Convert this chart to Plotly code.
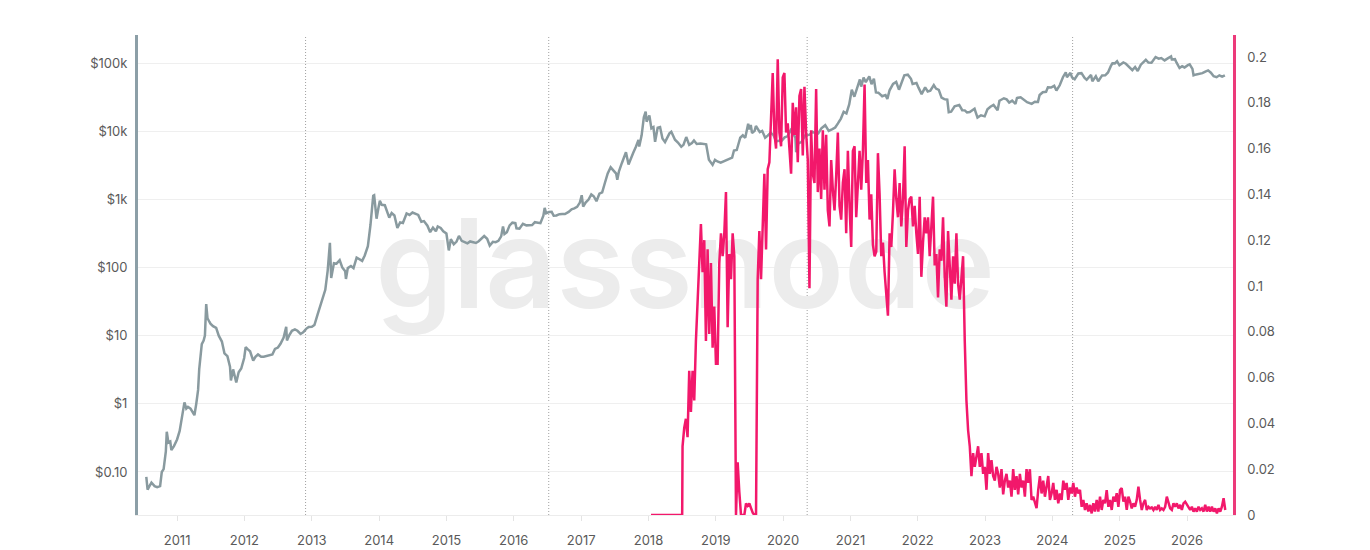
import plotly.graph_objects as go
import pandas as pd

# ---------------- data ----------------
price_dates = [
    "2010-07-18", "2010-07-25", "2010-08-01", "2010-08-15", "2010-09-01", "2010-09-15", "2010-10-01", "2010-10-10",
    "2010-10-20", "2010-11-01", "2010-11-06", "2010-11-15", "2010-11-25", "2010-12-01", "2010-12-15", "2011-01-01",
    "2011-01-15", "2011-02-01", "2011-02-10", "2011-02-20", "2011-03-01", "2011-03-15", "2011-04-05", "2011-04-15",
    "2011-04-25", "2011-05-01", "2011-05-15", "2011-05-25", "2011-06-01", "2011-06-08", "2011-06-15", "2011-06-25",
    "2011-07-01", "2011-07-15", "2011-08-01", "2011-08-15", "2011-09-01", "2011-09-15", "2011-10-01", "2011-10-15",
    "2011-10-20", "2011-11-01", "2011-11-18", "2011-12-01", "2011-12-15", "2011-12-31", "2012-01-08", "2012-01-20",
    "2012-02-01", "2012-02-18", "2012-03-01", "2012-03-15", "2012-04-01", "2012-04-15", "2012-05-01", "2012-05-15",
    "2012-06-01", "2012-06-15", "2012-07-01", "2012-07-15", "2012-08-01", "2012-08-15", "2012-08-19", "2012-09-01",
    "2012-09-15", "2012-10-01", "2012-10-15", "2012-11-01", "2012-11-15", "2012-12-01", "2012-12-15", "2013-01-01",
    "2013-01-15", "2013-02-01", "2013-02-15", "2013-03-01", "2013-03-15", "2013-03-28", "2013-04-09", "2013-04-16",
    "2013-05-01", "2013-05-15", "2013-06-01", "2013-06-15", "2013-07-01", "2013-07-05", "2013-07-15", "2013-08-01",
    "2013-08-15", "2013-09-01", "2013-09-15", "2013-10-01", "2013-10-15", "2013-11-01", "2013-11-15", "2013-11-30",
    "2013-12-05", "2013-12-18", "2013-12-28", "2014-01-05", "2014-01-15", "2014-02-01", "2014-02-25", "2014-03-10",
    "2014-03-25", "2014-04-10", "2014-04-25", "2014-05-10", "2014-05-30", "2014-06-15", "2014-07-01", "2014-07-15",
    "2014-08-01", "2014-08-18", "2014-09-01", "2014-09-20", "2014-10-05", "2014-10-20", "2014-11-05", "2014-11-15",
    "2014-12-01", "2014-12-15", "2015-01-01", "2015-01-14", "2015-01-25", "2015-02-10", "2015-02-25", "2015-03-10",
    "2015-03-25", "2015-04-10", "2015-04-25", "2015-05-10", "2015-05-25", "2015-06-10", "2015-06-25", "2015-07-10",
    "2015-07-25", "2015-08-10", "2015-08-24", "2015-09-10", "2015-09-25", "2015-10-10", "2015-10-25", "2015-11-04",
    "2015-11-12", "2015-11-25", "2015-12-10", "2015-12-25", "2016-01-10", "2016-01-16", "2016-02-01", "2016-02-20",
    "2016-03-10", "2016-03-25", "2016-04-10", "2016-04-25", "2016-05-10", "2016-05-25", "2016-06-10", "2016-06-17",
    "2016-06-25", "2016-07-10", "2016-07-25", "2016-08-05", "2016-08-20", "2016-09-05", "2016-09-20", "2016-10-05",
    "2016-10-25", "2016-11-10", "2016-11-25", "2016-12-10", "2016-12-25", "2017-01-04", "2017-01-12", "2017-01-25",
    "2017-02-10", "2017-02-25", "2017-03-10", "2017-03-25", "2017-04-10", "2017-04-25", "2017-05-10", "2017-05-25",
    "2017-06-10", "2017-06-25", "2017-07-10", "2017-07-16", "2017-07-25", "2017-08-10", "2017-08-25", "2017-09-01",
    "2017-09-15", "2017-09-25", "2017-10-10", "2017-10-25", "2017-11-08", "2017-11-12", "2017-11-25", "2017-12-07",
    "2017-12-17", "2017-12-22", "2018-01-06", "2018-01-17", "2018-01-28", "2018-02-06", "2018-02-20", "2018-03-05",
    "2018-03-18", "2018-04-01", "2018-04-25", "2018-05-05", "2018-05-25", "2018-06-10", "2018-06-28", "2018-07-10",
    "2018-07-25", "2018-08-10", "2018-08-25", "2018-09-05", "2018-09-20", "2018-10-10", "2018-10-25", "2018-11-10",
    "2018-11-25", "2018-12-15", "2018-12-28", "2019-01-10", "2019-01-28", "2019-02-15", "2019-02-28", "2019-03-15",
    "2019-03-31", "2019-04-10", "2019-04-25", "2019-05-14", "2019-05-28", "2019-06-10", "2019-06-26", "2019-07-02",
    "2019-07-10", "2019-07-17", "2019-07-31", "2019-08-07", "2019-08-28", "2019-09-10", "2019-09-26", "2019-10-10",
    "2019-10-26", "2019-11-10", "2019-11-25", "2019-12-10", "2019-12-25", "2020-01-10", "2020-01-25", "2020-02-12",
    "2020-02-25", "2020-03-08", "2020-03-12", "2020-03-25", "2020-04-10", "2020-04-30", "2020-05-10", "2020-05-25",
    "2020-06-10", "2020-06-25", "2020-07-10", "2020-07-27", "2020-08-17", "2020-09-05", "2020-09-25", "2020-10-10",
    "2020-10-25", "2020-11-10", "2020-11-25", "2020-12-10", "2020-12-25", "2021-01-08", "2021-01-22", "2021-02-08",
    "2021-02-21", "2021-02-28", "2021-03-13", "2021-03-25", "2021-04-13", "2021-04-25", "2021-05-08", "2021-05-19",
    "2021-06-01", "2021-06-22", "2021-07-10", "2021-07-20", "2021-08-01", "2021-08-20", "2021-09-06", "2021-09-21",
    "2021-10-05", "2021-10-20", "2021-11-08", "2021-11-25", "2021-12-04", "2021-12-25", "2022-01-05", "2022-01-22",
    "2022-02-10", "2022-02-24", "2022-03-10", "2022-03-29", "2022-04-10", "2022-04-25", "2022-05-10", "2022-05-25",
    "2022-06-10", "2022-06-18", "2022-07-01", "2022-07-20", "2022-08-14", "2022-08-30", "2022-09-13", "2022-09-25",
    "2022-10-10", "2022-10-28", "2022-11-05", "2022-11-21", "2022-12-10", "2022-12-30", "2023-01-14", "2023-01-30",
    "2023-02-16", "2023-03-10", "2023-03-20", "2023-04-13", "2023-04-28", "2023-05-12", "2023-05-28", "2023-06-15",
    "2023-06-23", "2023-07-13", "2023-07-31", "2023-08-17", "2023-09-11", "2023-09-28", "2023-10-15", "2023-10-24",
    "2023-11-10", "2023-11-28", "2023-12-08", "2023-12-25", "2024-01-11", "2024-01-23", "2024-02-10", "2024-02-28",
    "2024-03-14", "2024-03-20", "2024-04-08", "2024-04-17", "2024-05-01", "2024-05-21", "2024-06-07", "2024-06-24",
    "2024-07-05", "2024-07-29", "2024-08-05", "2024-08-24", "2024-09-06", "2024-09-27", "2024-10-14", "2024-10-29",
    "2024-11-13", "2024-11-22", "2024-12-05", "2024-12-17", "2024-12-30", "2025-01-20", "2025-02-03", "2025-02-28",
    "2025-03-10", "2025-03-25", "2025-04-08", "2025-04-25", "2025-05-22", "2025-06-05", "2025-06-22", "2025-07-14",
    "2025-07-31", "2025-08-14", "2025-09-01", "2025-09-18", "2025-10-06", "2025-10-10", "2025-10-27", "2025-11-05",
    "2025-11-21", "2025-12-05", "2025-12-18", "2026-01-05", "2026-01-15", "2026-01-30", "2026-02-05", "2026-02-20",
    "2026-03-10", "2026-03-25", "2026-04-10", "2026-04-25", "2026-05-10", "2026-05-25", "2026-06-10", "2026-06-25",
    "2026-07-10", "2026-07-25",
]
price_values = [
    0.085, 0.055, 0.06, 0.07, 0.062, 0.06, 0.062, 0.10,
    0.11, 0.20, 0.39, 0.27, 0.28, 0.21, 0.24, 0.30,
    0.40, 0.70, 1.05, 0.85, 0.90, 0.85, 0.68, 1.0,
    1.6, 3.2, 7.5, 8.5, 10, 29, 18, 16,
    15, 13.8, 13, 10, 8.2, 5.5, 5.0, 3.5,
    2.2, 3.2, 2.05, 2.9, 3.3, 4.7, 6.8, 6.3,
    5.9, 4.3, 4.9, 5.3, 4.9, 4.9, 5.0, 5.1,
    5.3, 6.4, 6.7, 7.6, 9.4, 13.5, 8.5, 10.2,
    11.8, 12.4, 11.8, 10.6, 11.2, 12.6, 13.4, 13.5,
    14.3, 20.4, 27, 34, 47, 90, 230, 70,
    116, 114, 128, 100, 88, 68, 98, 105,
    98, 140, 134, 125, 150, 205, 420, 1130,
    1150, 520, 740, 950, 830, 820, 540, 630,
    580, 380, 460, 450, 620, 590, 640, 620,
    590, 470, 480, 410, 330, 385, 340, 400,
    380, 340, 315, 178, 260, 220, 240, 290,
    246, 236, 226, 241, 238, 229, 243, 270,
    290, 264, 210, 238, 235, 246, 286, 400,
    310, 330, 415, 455, 448, 375, 372, 438,
    415, 416, 420, 462, 452, 447, 577, 750,
    625, 650, 655, 575, 580, 605, 610, 610,
    655, 715, 735, 775, 895, 1150, 780, 895,
    995, 1180, 1110, 940, 1210, 1265, 1750, 2400,
    2950, 2600, 2380, 1930, 2580, 3420, 4360, 4900,
    3250, 3900, 4780, 5900, 7450, 5950, 8700, 16000,
    19300, 13800, 17000, 11000, 11500, 7000, 11200, 11500,
    7800, 6900, 9300, 9800, 7500, 6800, 5900, 6300,
    8200, 6300, 6700, 7300, 6500, 6600, 6450, 6400,
    3800, 3200, 3800, 3600, 3450, 3600, 3800, 3900,
    4100, 5200, 5300, 8000, 8700, 8000, 12900, 10600,
    12300, 9400, 10100, 11900, 9700, 10100, 8000, 8600,
    9500, 8800, 7100, 7250, 7250, 8100, 8400, 10350,
    9300, 8000, 4900, 6700, 6900, 8650, 8700, 8900,
    9800, 9250, 9250, 11000, 12250, 10100, 10700, 11300,
    13000, 15300, 19200, 18200, 24700, 40500, 32000, 46000,
    57500, 45000, 61000, 52500, 63500, 49000, 58900, 37000,
    36700, 32500, 33800, 29800, 39800, 49300, 52700, 40600,
    51500, 66000, 67500, 58800, 49300, 50800, 43500, 35000,
    44000, 38300, 39300, 47500, 42200, 40400, 31000, 29500,
    29000, 19000, 19300, 23200, 24300, 20300, 20200, 18900,
    19100, 20600, 21300, 15800, 17100, 16500, 20900, 22800,
    24300, 20200, 28000, 30400, 29300, 26300, 28000, 25100,
    30700, 31400, 29200, 26600, 25200, 27000, 26900, 33900,
    37300, 37800, 44000, 43600, 46300, 39500, 47100, 62500,
    73100, 62000, 71600, 61300, 57800, 70200, 71000, 60200,
    56700, 66800, 54000, 64000, 53900, 65800, 66000, 72700,
    90000, 98900, 98800, 106000, 92600, 102000, 97500, 84400,
    78500, 87500, 76300, 94600, 111600, 101600, 100900, 122000,
    115800, 118300, 109200, 117000, 124700, 113000, 114000, 101000,
    84500, 89500, 86000, 93000, 95500, 82000, 66000, 68000,
    70000, 71000, 75000, 78000, 72000, 64000, 62000, 66000,
    63000, 66000,
]

# metric (right axis): flat zero before it starts, then sampled readings
pink_flat_dates = ["2018-01-15", "2018-07-03"]
pink_flat_values = [0.0, 0.0]
pink_start, pink_end = "2018-07-05", "2026-07-27"
pink_a = [0.030, 0.038, 0.042, 0.034, 0.063, 0.045, 0.063, 0.050, 0.076, 0.092,
          0.106, 0.127, 0.106, 0.120, 0.076, 0.116, 0.079, 0.110, 0.073, 0.091,
          0.066, 0.066, 0.110, 0.123, 0.113, 0.123, 0.141, 0.082, 0.114, 0.103,
          0.123, 0.113, 0.000, 0.023, 0.010, 0.000, 0.000, 0.000, 0.005, 0.004,
          0.005, 0.003, 0.001, 0.000, 0.000, 0.103]
pink_b = [0.124, 0.103, 0.127, 0.149, 0.116, 0.151, 0.154, 0.174, 0.193, 0.167,
          0.160, 0.199, 0.167, 0.161, 0.191, 0.193, 0.167, 0.171, 0.159, 0.149,
          0.180, 0.166, 0.178, 0.154, 0.183, 0.186, 0.157, 0.187, 0.167, 0.155,
          0.099, 0.168, 0.149, 0.145, 0.186, 0.141, 0.160, 0.138, 0.168, 0.142,
          0.166, 0.133, 0.126, 0.155, 0.142, 0.133, 0.148, 0.167, 0.135, 0.129,
          0.145, 0.151, 0.123, 0.159, 0.135, 0.117, 0.159, 0.161, 0.130, 0.148,
          0.159, 0.142]
pink_c = [0.159, 0.188, 0.145, 0.155, 0.129, 0.140, 0.118, 0.113, 0.115, 0.158,
          0.140, 0.113, 0.119, 0.106, 0.094, 0.087, 0.123, 0.117, 0.132, 0.151,
          0.138, 0.130, 0.145, 0.126, 0.138, 0.161, 0.117, 0.133, 0.138, 0.139,
          0.126, 0.135, 0.123, 0.114, 0.139, 0.104, 0.119, 0.130, 0.123, 0.130,
          0.113, 0.126, 0.139, 0.109, 0.114, 0.095, 0.116, 0.111, 0.130, 0.104,
          0.091, 0.124, 0.106, 0.094, 0.113, 0.101, 0.123, 0.101, 0.094, 0.106,
          0.113, 0.076]
pink_d = [0.050, 0.037, 0.030, 0.017, 0.027, 0.021, 0.026, 0.030, 0.021, 0.027,
          0.018, 0.021, 0.011, 0.027, 0.018, 0.024, 0.017, 0.015, 0.021, 0.018,
          0.012, 0.020, 0.009, 0.015, 0.018, 0.012, 0.015, 0.008, 0.020, 0.011,
          0.017, 0.009, 0.018, 0.012, 0.015, 0.008, 0.020, 0.014, 0.020, 0.0066,
          0.008, 0.005, 0.003, 0.011, 0.017, 0.0094, 0.015, 0.008, 0.012, 0.017,
          0.0066, 0.0094, 0.014, 0.0066, 0.011, 0.0051, 0.0094, 0.0066, 0.015, 0.011,
          0.014, 0.0066, 0.012, 0.0094, 0.014, 0.008, 0.012, 0.0094, 0.011, 0.0036,
          0.0066, 0.0022, 0.0051, 0.0015, 0.0044, 0.0007, 0.0051, 0.0015, 0.0066, 0.0015,
          0.008, 0.0022]
pink_e = [0.0066, 0.0051, 0.0109, 0.0036, 0.0066, 0.0022, 0.0080, 0.0058, 0.0095, 0.0036,
          0.0109, 0.0117, 0.0058, 0.0080, 0.0022, 0.0080, 0.0058, 0.0029, 0.0051, 0.0036,
          0.0066, 0.0124, 0.0066, 0.0022, 0.0051, 0.0066, 0.0022, 0.0036, 0.0029, 0.0033,
          0.0022, 0.0036, 0.0022, 0.0044, 0.0022, 0.0029, 0.0022, 0.0036, 0.0080, 0.0051,
          0.0029, 0.0022, 0.0051, 0.0036, 0.0051, 0.0029, 0.0044, 0.0022, 0.0051, 0.0058,
          0.0044, 0.0036, 0.0022, 0.0036, 0.0015, 0.0029, 0.0015, 0.0036, 0.0022, 0.0029,
          0.0015, 0.0044, 0.0015, 0.0036, 0.0015, 0.0036, 0.0015, 0.0029, 0.0007, 0.0029,
          0.0015, 0.0036, 0.0073, 0.0022]

halving_dates = ["2012-11-28", "2016-07-09", "2020-05-11", "2024-04-20"]

left_tickvals = [0.1, 1, 10, 100, 1000, 10000, 100000]
left_ticktext = ["$0.10", "$1", "$10", "$100", "$1k", "$10k", "$100k"]
right_tickvals = [0, 0.02, 0.04, 0.06, 0.08, 0.1, 0.12, 0.14, 0.16, 0.18, 0.2]
right_ticktext = ["0", "0.02", "0.04", "0.06", "0.08", "0.1", "0.12", "0.14", "0.16", "0.18", "0.2"]

X_RANGE = ["2010-06-03", "2026-09-07"]
Y_LOG_RANGE = [-1.631, 5.411]
Y2_RANGE = [0, 0.2096]

# ---------------- build ----------------
pink_values = pink_a + pink_b + pink_c + pink_d + pink_e
pink_sample_dates = pd.date_range(pink_start, pink_end, periods=len(pink_values))
pink_x = list(pd.to_datetime(pink_flat_dates)) + list(pink_sample_dates)
pink_y = pink_flat_values + pink_values

GRAY = "#899a9f"
PINK = "#f2186b"
TICKFONT = dict(family="Inter, Roboto, sans-serif", size=13, color="#5a5a5a")

x0 = pd.Timestamp(X_RANGE[0])
x1 = pd.Timestamp(X_RANGE[1])
wm_x = x0 + (x1 - x0) * 0.4995
wm_y = 10 ** (Y_LOG_RANGE[0] + 0.495 * (Y_LOG_RANGE[1] - Y_LOG_RANGE[0]))

fig = go.Figure()

# watermark (drawn first -> underneath)
fig.add_trace(go.Scatter(
    x=[wm_x], y=[wm_y], mode="text", text=["glassnode"],
    textposition="middle center",
    textfont=dict(family="Inter, sans-serif", size=124, color="#ececec", weight=600),
    hoverinfo="skip", showlegend=False, cliponaxis=False,
))

fig.add_trace(go.Scatter(
    x=pd.to_datetime(price_dates), y=price_values, mode="lines",
    line=dict(color=GRAY, width=2.5), name="Price", showlegend=False,
))

fig.add_trace(go.Scatter(
    x=pink_x, y=pink_y, mode="lines", yaxis="y2",
    line=dict(color=PINK, width=2.5), name="Metric", showlegend=False,
))

for d in halving_dates:
    fig.add_shape(type="line", xref="x", yref="paper", x0=d, x1=d, y0=0, y1=1,
                  line=dict(color="#a0a0a0", width=1, dash="1px,2px"), layer="below")

fig.update_layout(
    width=1370, height=550,
    margin=dict(l=138, r=137, t=35, b=35),
    paper_bgcolor="white", plot_bgcolor="white",
    showlegend=False,
    xaxis=dict(
        type="date", range=X_RANGE, tick0="2011-01-01", dtick="M12", tickformat="%Y",
        showgrid=False, zeroline=False, showline=True, linecolor="#ececec", linewidth=1,
        ticks="outside", ticklen=5, tickcolor="#e4e4e4", tickfont=TICKFONT,
        ticklabelstandoff=8, automargin=False,
    ),
    yaxis=dict(
        type="log", range=Y_LOG_RANGE, tickvals=left_tickvals, ticktext=left_ticktext,
        showgrid=True, gridcolor="#efefef", gridwidth=1, zeroline=False,
        showline=True, linecolor="#8c9fa7", linewidth=3, ticks="", tickfont=TICKFONT,
        ticklabelstandoff=5, automargin=False,
    ),
    yaxis2=dict(
        overlaying="y", side="right", range=Y2_RANGE, tickvals=right_tickvals,
        ticktext=right_ticktext, showgrid=False, zeroline=False,
        showline=True, linecolor="#ec3a7a", linewidth=2.5, ticks="", tickfont=TICKFONT,
        ticklabelstandoff=9, automargin=False,
    ),
)

fig.write_html("out.html")
